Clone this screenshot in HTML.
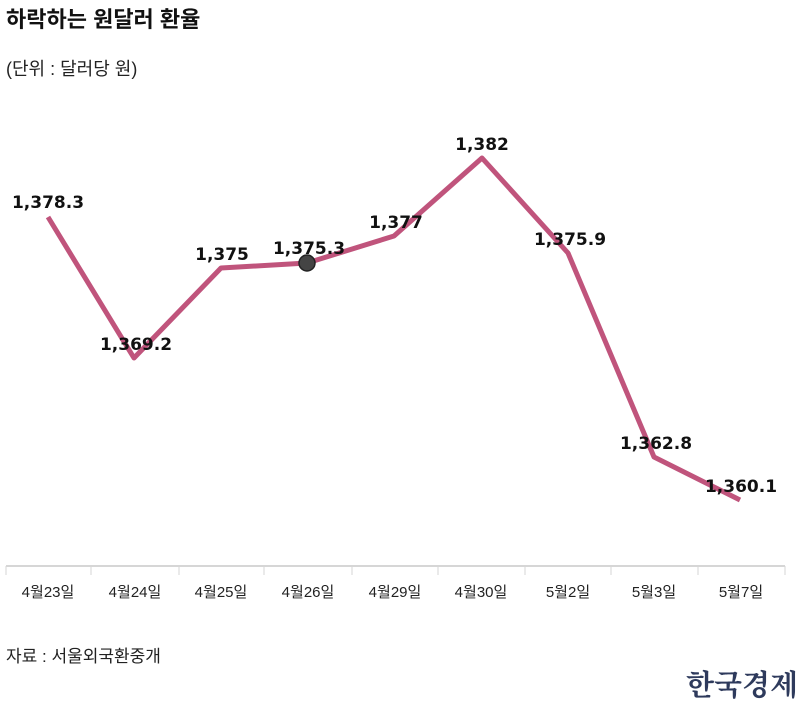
<!DOCTYPE html>
<html><head><meta charset="utf-8"><style>
body{margin:0;background:#fff;width:800px;height:699px;overflow:hidden;font-family:"Liberation Sans","Noto Sans CJK KR",sans-serif}
</style></head><body>
<svg width="800" height="699" xmlns="http://www.w3.org/2000/svg" style="font-family:'Liberation Sans','Noto Sans CJK KR',sans-serif">
<text x="6" y="27" font-size="22" font-weight="bold" fill="#111">하락하는 원달러 환율</text>
<text x="6" y="75" font-size="18" fill="#222">(단위 : 달러당 원)</text>
<line x1="6" y1="566" x2="785" y2="566" stroke="#d6d6d6" stroke-width="2"/>
<g stroke="#d6d6d6" stroke-width="1">
<line x1="6" y1="566" x2="6" y2="575"/><line x1="91" y1="566" x2="91" y2="575"/><line x1="179" y1="566" x2="179" y2="575"/><line x1="264" y1="566" x2="264" y2="575"/><line x1="352" y1="566" x2="352" y2="575"/><line x1="438" y1="566" x2="438" y2="575"/><line x1="525" y1="566" x2="525" y2="575"/><line x1="611" y1="566" x2="611" y2="575"/><line x1="698" y1="566" x2="698" y2="575"/><line x1="785" y1="566" x2="785" y2="575"/>
</g>
<g font-size="15" fill="#222" text-anchor="middle">
<text x="48" y="597">4월23일</text><text x="135" y="597">4월24일</text><text x="221" y="597">4월25일</text><text x="308" y="597">4월26일</text><text x="395" y="597">4월29일</text><text x="481" y="597">4월30일</text><text x="568" y="597">5월2일</text><text x="654" y="597">5월3일</text><text x="741" y="597">5월7일</text>
</g>
<polyline fill="none" stroke="#c0547c" stroke-width="5" stroke-linejoin="round" points="48,217 134,358 221,268 307,263 394,236 482,158 568,253 654,457 740,500"/>
<circle cx="307" cy="263" r="8" fill="#444" stroke="#222" stroke-width="1.5"/>
<g font-size="17" font-weight="bold" fill="#111" text-anchor="middle" style="font-family:'DejaVu Sans',sans-serif">
<text x="48" y="208">1,378.3</text><text x="136" y="350">1,369.2</text><text x="222" y="260">1,375</text><text x="309" y="254">1,375.3</text><text x="396" y="228">1,377</text><text x="482" y="150">1,382</text><text x="570" y="245">1,375.9</text><text x="656" y="449">1,362.8</text><text x="741" y="492">1,360.1</text>
</g>
<text x="6" y="662" font-size="17" fill="#222">자료 : 서울외국환중개</text>
<text x="798" y="695" font-size="29" font-weight="bold" fill="#2e3a5c" text-anchor="end" style="font-family:'Noto Serif CJK SC','Noto Sans CJK KR',serif">한국경제</text>
</svg>
</body></html>
